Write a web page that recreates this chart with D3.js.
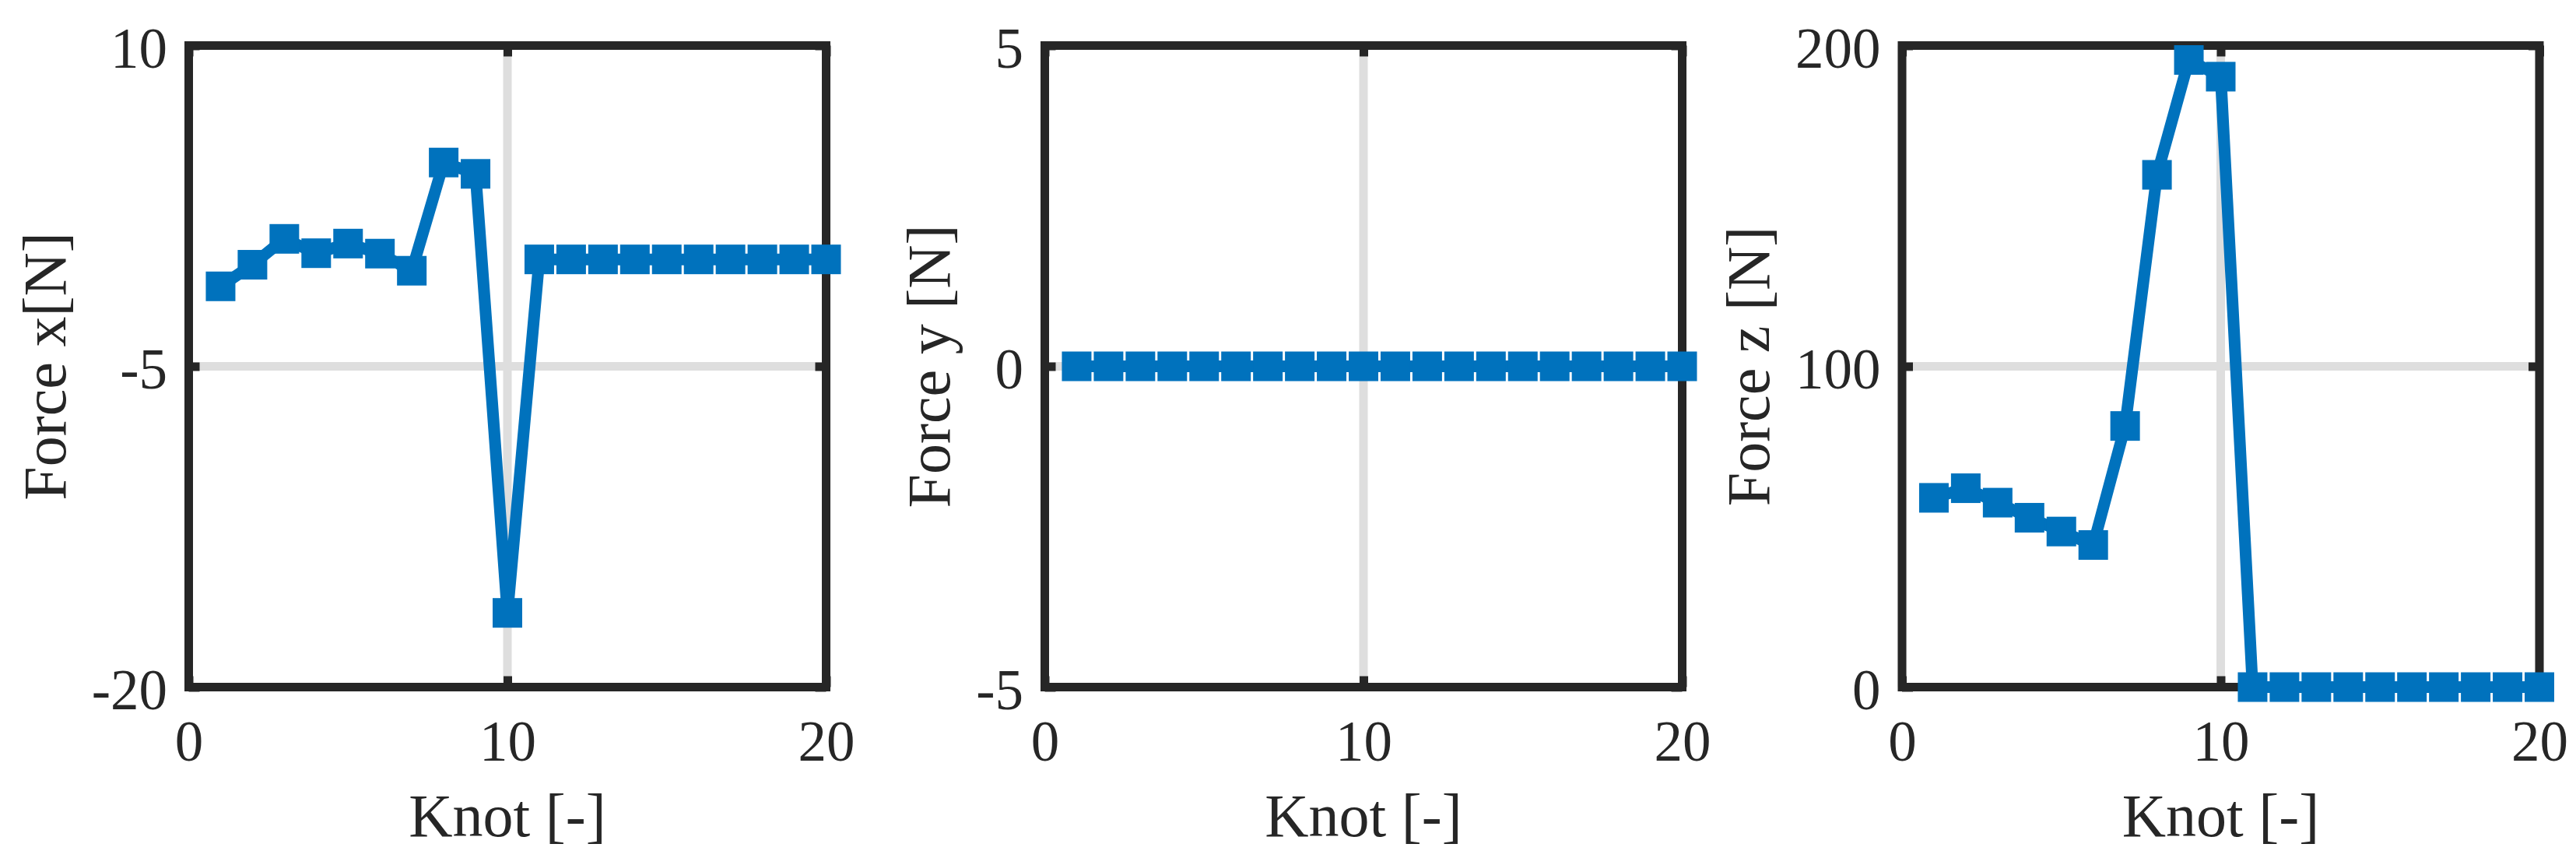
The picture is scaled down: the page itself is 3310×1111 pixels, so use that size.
<!DOCTYPE html>
<html><head><meta charset="utf-8">
<script src="https://cdn.jsdelivr.net/npm/d3@7"></script>
<style>body{margin:0;background:#fff} svg{display:block}</style>
</head><body>
<svg id="c" width="3310" height="1111"></svg>
<script>
const knots  = [1,2,3,4,5,6,7,8,9,10,11,12,13,14,15,16,17,18,19,20];
const forceX = [-1.26,-0.25,0.96,0.29,0.74,0.27,-0.53,4.53,4.0,-16.53,0,0,0,0,0,0,0,0,0,0];
const forceY = [0,0,0,0,0,0,0,0,0,0,0,0,0,0,0,0,0,0,0,0];
const forceZ = [59.0,62.0,57.5,52.8,48.5,44.3,81.4,159.7,195.5,190.3,0,0,0,0,0,0,0,0,0,0];
const xTicks  = [0,10,20];
const yTicksX = [-20,-5,10];
const yTicksY = [-5,0,5];
const yTicksZ = [0,100,200];
const yLabels = ["Force x[N]","Force y [N]","Force z [N]"];
const xLabel  = "Knot [-]";

const lefts = [242.5,1342.5,2444];
const domains = [[-20,10],[-5,5],[0,200]];
const series = [forceX, forceY, forceZ];
const yTickSets = [yTicksX, yTicksY, yTicksZ];

const W = 819, TOP = 58.5, BOTTOM = 882.5;
const INK = "#262626", BLUE = "#0072BD", GRID = "#dedede";
const FONT = "'Liberation Serif','Times New Roman',serif";
const TICKFS = 73, LABELFS = 78;

const svg = d3.select("#c");

series.forEach((vals, i) => {
  const left = lefts[i];
  const x = d3.scaleLinear().domain([0,20]).range([left, left+W]);
  const y = d3.scaleLinear().domain(domains[i]).range([BOTTOM, TOP]);
  const g = svg.append("g");

  // grid
  g.append("g").selectAll("line").data(xTicks).join("line")
    .attr("x1", d=>x(d)).attr("x2", d=>x(d)).attr("y1", TOP).attr("y2", BOTTOM)
    .attr("stroke", GRID).attr("stroke-width", 11);
  g.append("g").selectAll("line").data(yTickSets[i]).join("line")
    .attr("y1", d=>y(d)).attr("y2", d=>y(d)).attr("x1", left).attr("x2", left+W)
    .attr("stroke", GRID).attr("stroke-width", 11);

  // axes (ticks inward)
  const styleAxis = sel => {
    sel.select(".domain").remove();
    sel.selectAll(".tick line").attr("stroke", INK).attr("stroke-width", 11);
    sel.selectAll("text").attr("fill", INK).style("font-family", FONT).style("font-size", TICKFS+"px");
  };
  const xb = g.append("g").attr("transform", `translate(0,${BOTTOM})`)
    .call(d3.axisBottom(x).tickValues(xTicks).tickSize(-14).tickPadding(0).tickFormat(d3.format("d")));
  styleAxis(xb);
  xb.selectAll("text").attr("y", 94).attr("dy", null);

  const yl = g.append("g").attr("transform", `translate(${left},0)`)
    .call(d3.axisLeft(y).tickValues(yTickSets[i]).tickSize(-14).tickPadding(27.5).tickFormat(d=>String(d)));
  styleAxis(yl);
  yl.selectAll("text").attr("dy", "28px");

  const xt = g.append("g").attr("transform", `translate(0,${TOP})`)
    .call(d3.axisTop(x).tickValues(xTicks).tickSize(-14).tickFormat(""));
  styleAxis(xt);
  const yr = g.append("g").attr("transform", `translate(${left+W},0)`)
    .call(d3.axisRight(y).tickValues(yTickSets[i]).tickSize(-14).tickFormat(""));
  styleAxis(yr);

  // frame
  g.append("rect").attr("x", left).attr("y", TOP).attr("width", W).attr("height", BOTTOM-TOP)
    .attr("fill", "none").attr("stroke", INK).attr("stroke-width", 11);

  // labels
  g.append("text").attr("x", left+W/2).attr("y", 1074).attr("text-anchor", "middle")
    .attr("fill", INK).style("font-family", FONT).style("font-size", LABELFS+"px").text(xLabel);
  let minX = Infinity;
  yl.selectAll("text").each(function(){ const b=this.getBBox(); minX = Math.min(minX, left + b.x); });
  const xbL = minX - 20 - 0.18*LABELFS;
  g.append("text").attr("transform", `translate(${xbL},${(TOP+BOTTOM)/2}) rotate(-90)`)
    .attr("text-anchor", "middle").attr("fill", INK)
    .style("font-family", FONT).style("font-size", LABELFS+"px").text(yLabels[i]);

  // data
  const pts = knots.map((k,j)=>({k, v: vals[j]}));
  g.append("path").datum(pts)
    .attr("d", d3.line().x(d=>x(d.k)).y(d=>y(d.v)))
    .attr("fill", "none").attr("stroke", BLUE).attr("stroke-width", 15).attr("stroke-linejoin", "round");
  const M = 38;
  g.append("g").selectAll("rect").data(pts).join("rect")
    .attr("x", d=>x(d.k)-M/2).attr("y", d=>y(d.v)-M/2).attr("width", M).attr("height", M)
    .attr("fill", BLUE);
});
</script>
</body></html>
